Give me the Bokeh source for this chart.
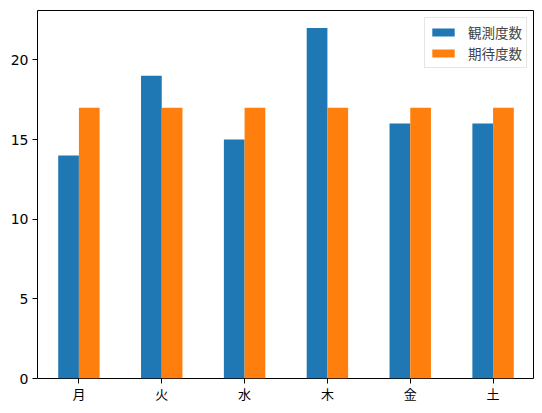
from bokeh.plotting import figure
from bokeh.models import ColumnDataSource, FactorRange, Range1d, FixedTicker, Legend, LegendItem
from bokeh.transform import dodge
from bokeh.embed import file_html
from bokeh.resources import INLINE

days = ["月", "火", "水", "木", "金", "土"]
observed = [14, 19, 15, 22, 16, 16]
expected = [17, 17, 17, 17, 17, 17]
obs_label = "観測度数"
exp_label = "期待度数"
y_ticks = [0, 5, 10, 15, 20]

src = ColumnDataSource(dict(day=days, obs=observed, exp=expected))

ymax = max(max(observed), max(expected)) * 1.05

p = figure(x_range=FactorRange(*days), y_range=Range1d(0, ymax),
           width=534, height=405, output_backend="svg", toolbar_location=None,
           min_border_left=37, min_border_top=10, min_border_right=0, min_border_bottom=26)

r1 = p.vbar(x=dodge("day", -0.125, range=p.x_range), top="obs", width=0.25, source=src,
            color="#1f77b4", line_color=None)
r2 = p.vbar(x=dodge("day", 0.125, range=p.x_range), top="exp", width=0.25, source=src,
            color="#ff7f0e", line_color=None)

legend = Legend(items=[LegendItem(label=obs_label, renderers=[r1]),
                       LegendItem(label=exp_label, renderers=[r2])],
                location="top_right")
legend.label_text_font = "Noto Sans CJK JP"
legend.label_text_font_size = "13.5px"
legend.glyph_width = 28
legend.glyph_height = 10
legend.label_standoff = 11
legend.padding = 4
legend.spacing = 1
legend.label_height = 19
legend.margin = 7
legend.border_line_color = "#cccccc"
legend.border_line_width = 1
legend.background_fill_alpha = 0.8
p.add_layout(legend)

p.xgrid.visible = False
p.ygrid.visible = False
p.outline_line_color = "black"
p.outline_line_width = 1
p.outline_line_alpha = 1

p.yaxis.ticker = FixedTicker(ticks=y_ticks)
for ax in (p.xaxis[0], p.yaxis[0]):
    ax.axis_line_color = None
    ax.major_tick_line_color = "black"
    ax.major_tick_out = 5
    ax.major_tick_in = 0
    ax.minor_tick_line_color = None
    ax.major_label_text_color = "black"
p.xaxis.major_label_text_font_size = "13px"
p.xaxis.major_label_standoff = 0
p.xaxis.major_label_text_font = "Noto Sans CJK JP"
p.yaxis.major_label_text_font_size = "14px"
p.yaxis.major_label_standoff = 4
p.yaxis.major_label_text_font = "DejaVu Sans"

open("out.html", "w").write(file_html(p, INLINE))
